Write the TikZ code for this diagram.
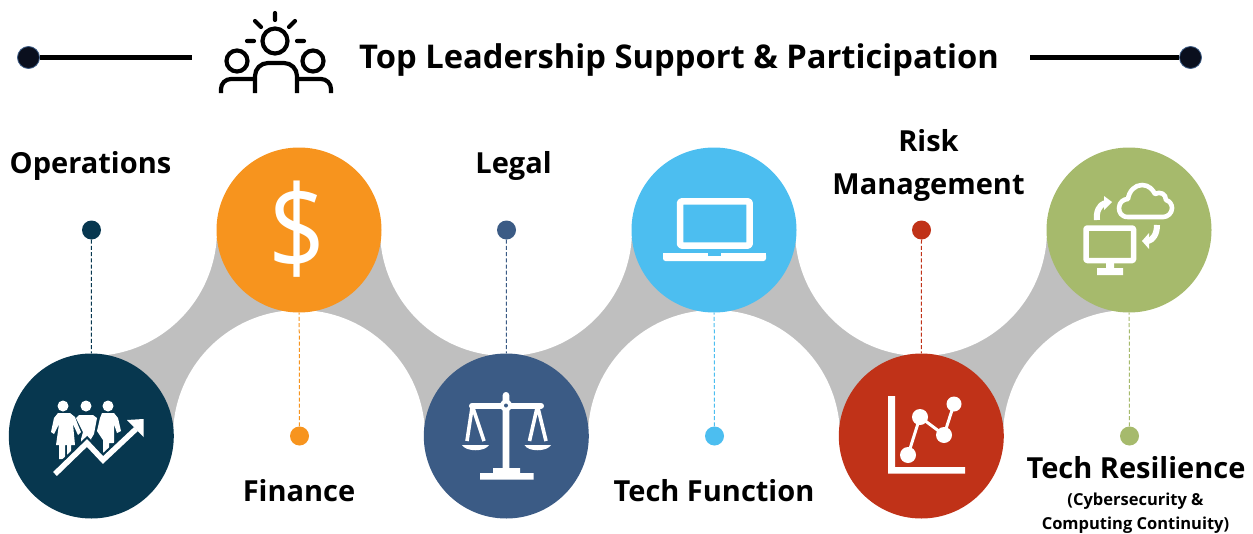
\documentclass[tikz,border=0pt]{standalone}
\usepackage{fontspec}
\setmainfont{Open Sans}
\definecolor{cnavy}{HTML}{07374F}
\definecolor{corange}{HTML}{F7941E}
\definecolor{cblue}{HTML}{3B5B85}
\definecolor{csky}{HTML}{4CBEF0}
\definecolor{cred}{HTML}{C03218}
\definecolor{cgreen}{HTML}{A6BA6C}
\definecolor{cband}{HTML}{BFBFBF}
\definecolor{cdark}{HTML}{0A0F1E}
\tikzset{
  bigc/.style={circle,minimum size=165pt,inner sep=0pt,fill=#1},
  dotc/.style={circle,minimum size=19pt,inner sep=0pt,fill=#1},
  leader/.style={draw=#1,dash pattern=on 4pt off 2.2pt,line width=1pt},
  enddot/.style={circle,minimum size=22pt,inner sep=0pt,fill=cdark,draw=cblue,line width=0.8pt},
  hole/.style={fill=white},
  lab/.style={font=\fontsize{29}{30}\selectfont\bfseries,text=black,inner sep=0pt,align=center},
  sublab/.style={font=\fontsize{16.5}{24}\selectfont\bfseries,text=black,inner sep=0pt,align=center},
  ink/.style={draw=black,line width=4.2pt,line cap=round,line join=round,fill=none},
  icon/.style={draw=white,line join=round}
}
\begin{document}
\begin{tikzpicture}[x=1pt,y=-1pt]
\useasboundingbox (0,0) rectangle (1253,533);
% band
\fill[cband] (91,230) rectangle (1129,436);
\foreach \cx/\cy in {91/230,299/436,506/230,714/436,921/230,1129/436}
  \fill[hole] (\cx,\cy) circle[radius=126];
% big circles
\node[bigc=cnavy] (c1) at (91.3,436) {};
\node[bigc=corange] (c2) at (299,230) {};
\node[bigc=cblue] (c3) at (506.3,436) {};
\node[bigc=csky] (c4) at (714,230) {};
\node[bigc=cred] (c5) at (921.3,436) {};
\node[bigc=cgreen] (c6) at (1129,230) {};
% dots and connectors
\node[dotc=cnavy] (d1) at (91.5,230) {};
\node[dotc=corange] (d2) at (299.5,436) {};
\node[dotc=cblue] (d3) at (506.5,230) {};
\node[dotc=csky] (d4) at (714.5,436) {};
\node[dotc=cred] (d5) at (921.5,230) {};
\node[dotc=cgreen] (d6) at (1129.5,436) {};
\draw[leader=cnavy] (d1) -- (c1);
\draw[leader=corange] (d2) -- (c2);
\draw[leader=cblue] (d3) -- (c3);
\draw[leader=csky] (d4) -- (c4);
\draw[leader=cred] (d5) -- (c5);
\draw[leader=cgreen] (d6) -- (c6);
% title rule
\node[enddot] (e1) at (28.5,57.5) {};
\node[enddot] (e2) at (1190.5,57.5) {};
\coordinate (r1) at (192,57.5);
\coordinate (r2) at (1030,57.5);
\draw[black,line width=5pt] (e1) -- (r1);
\draw[black,line width=5pt] (e2) -- (r2);
\node[font=\fontsize{32.7}{36}\selectfont\bfseries,inner sep=0pt,anchor=center] (title) at (679,60) {Top Leadership Support \& Participation};
% leadership icon
\draw[ink] (275,41) circle[radius=12.5];
\draw[ink] (237,61) circle[radius=10.5];
\draw[ink] (313,61) circle[radius=10.5];
\draw[ink] (275,13) -- (275,20) (255,21) -- (261,27) (295,21) -- (289,27)
  (247,41) -- (254,41) (297,41) -- (304,41);
\draw[ink,line cap=butt,rounded corners=13pt] (255,93) -- (255,63) -- (297,63) -- (297,93);
\draw[ink,line cap=butt,rounded corners=10pt] (221,93) -- (221,79) -- (253,79);
\draw[ink,line cap=butt,rounded corners=10pt] (331,93) -- (331,79) -- (299,79);
% people icon
\fill[white] (63,406) circle[radius=5.5] (86,406) circle[radius=5.5] (108,406) circle[radius=5.5];
\fill[white] (58,413) -- (70,413) -- (75,417) -- (78,425) -- (81,432) -- (78,435) -- (73,424) -- (75,445) -- (71,445) -- (71,459) -- (67,459) -- (67,445) -- (65,445) -- (65,459) -- (59,459) -- (59,445) -- (56,445) -- (59,424) -- (54,434) -- (51,432) -- (54,418) -- cycle;
\fill[white] (79,415) -- (93,415) -- (97,418) -- (94,434) -- (91,439) -- (91,447) -- (81,447) -- (81,439) -- (83,432) -- (76,418) -- cycle;
\fill[white] (102,413) -- (114,413) -- (118,418) -- (121,431) -- (117,433) -- (114,424) -- (114,443) -- (109,443) -- (109,449) -- (103,455) -- (103,440) -- (97,431) -- (100,418) -- cycle;
\draw[cnavy,line width=10pt,line join=miter] (53,475) -- (87,443) -- (103,460) -- (132,433);
\draw[white,line width=5.5pt,line join=miter] (55,474) -- (87,443) -- (103,460) -- (136,429);
\fill[white] (127,420) -- (143.5,419) -- (143.5,437) -- cycle;
% dollar
\node[font=\fontsize{100}{100}\selectfont,text=white,inner sep=0pt,yscale=1.18] (dollar) at (297.5,229) {\$};
% scales
\fill[white,rounded corners=3.2pt] (502.7,392) rectangle (509.3,474);
\draw[white,line width=6pt,line cap=round] (472,405.8) -- (541,405.8);
\fill[white] (506,405.5) circle[radius=6];
\fill[cblue] (506,405.5) circle[radius=2];
\fill[white] (493,468) rectangle (520,474) (480,473) rectangle (533.5,479.5);
\draw[white,line width=3.6pt] (472,408) -- (467,441) (473,408) -- (484,441)
  (537,408) -- (529.5,441) (538,408) -- (546,441);
\fill[white] (462,445) .. controls (466,452) and (485,452) .. (489,445) -- cycle;
\fill[white] (524.5,445) .. controls (528,452) and (547,452) .. (551,445) -- cycle;
% laptop
\draw[icon,line width=6.5pt,rounded corners=1.5pt] (680,201.3) rectangle (749.7,245.6);
\fill[white,rounded corners=2.5pt] (663,253) -- (766,253) -- (766,261) -- (663,261) -- cycle;
\fill[white] (663,253) rectangle (766,256);
\fill[csky] (708,253) rectangle (721,255.5);
% chart
\fill[white] (888,396) -- (895,396) -- (895,467) -- (965,467) -- (965,473.5) -- (888,473.5) -- cycle;
\draw[white,line width=3pt] (908,455) -- (920,417) -- (944,435) -- (954,404);
\fill[white] (908,455) circle[radius=8] (920,417) circle[radius=8] (944,435) circle[radius=8] (954,404) circle[radius=7.5];
% monitor and cloud
\draw[icon,line width=5.5pt,rounded corners=1pt] (1086,228) rectangle (1133.5,260.5);
\fill[white] (1106,263) rectangle (1114,268.5) (1097,268) rectangle (1123,275);
\draw[icon,line width=4.6pt] (1128,217) .. controls (1121,217) and (1119,212) .. (1119,208)
  .. controls (1119,202) and (1124,199) .. (1128,199)
  .. controls (1129,191) and (1135,185) .. (1142,185)
  .. controls (1149,185) and (1153,190) .. (1155,194)
  .. controls (1160,191) and (1166,194) .. (1166,200)
  .. controls (1170,201) and (1172,205) .. (1172,208)
  .. controls (1172,213) and (1168,217) .. (1163,217) -- cycle;
\draw[icon,line width=6pt] (1097,220) .. controls (1096,212) and (1099,205) .. (1105,203);
\fill[white] (1104,196) -- (1112,202) -- (1104,210) -- cycle;
\draw[icon,line width=6pt] (1157,225) .. controls (1157,234) and (1153,240) .. (1148,241);
\fill[white] (1142,241) -- (1149,233) -- (1149,249) -- cycle;
% labels
\node[lab] (l1) at (90.5,166) {Operations};
\node[lab] (l2) at (299,491) {Finance};
\node[lab] (l3) at (513.5,166) {Legal};
\node[lab] (l4) at (714,491) {Tech Function};
\node[lab] (l5a) at (928.5,141) {Risk};
\node[lab] (l5b) at (928.5,188) {Management};
\node[lab] (l6) at (1136,468) {Tech Resilience};
\node[sublab] (l6a) at (1135.5,501) {(Cybersecurity \&};
\node[sublab] (l6b) at (1135.5,525) {Computing Continuity)};
\end{tikzpicture}
\end{document}
